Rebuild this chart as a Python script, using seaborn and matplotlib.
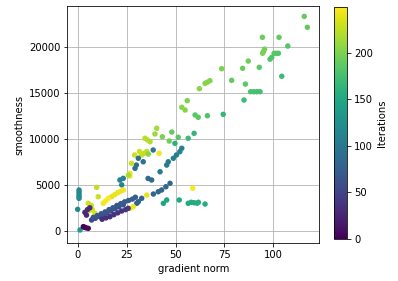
import numpy as np
import pandas as pd
import matplotlib
matplotlib.use("Agg")
import matplotlib.pyplot as plt
import seaborn as sns

# points: gradient norm, smoothness, iteration
grad_norm = [
    115.8, 117.4, 94.4, 102.9, 107.4, 95.5, 95.0, 94.5, 100.4, 101.5, 102.6,
    98.3, 99.2, 87.2, 92.8, 104.3, 84.3, 73.6, 78.7, 67.6, 66.3, 65.1, 62.2,
    85.7, 88.4, 90.0, 91.6, 93.2, 85.0, 56.0, 53.2, 54.9, 60.0, 61.6, 66.3, 74.4,
    40.4, 39.5, 43.3, 48.1, 51.4, 56.5, 59.5, 34.4, 35.7, 37.0, 49.7, 46.8,
    38.6, 41.6, 35.3, 34.0, 32.7, 31.6, 29.1, 36.1, 33.5, 31.0, 30.0, 29.3,
    27.5, 26.7, 53.2, 52.2, 50.5, 48.9, 46.3, 45.5, 42.1,
    26.7, 36.0, 37.8, 47.2, 45.1, 42.9, 41.2, 38.7, 32.7, 31.0, 30.2,
    35.3, 28.4, 26.7, 43.8, 45.5, 51.9, 56.5, 58.0, 59.5, 61.0, 61.7, 65.1,
    58.8,
    0.7, 0.7, 0.7, 0.7, 0.7, 0.0, 1.2, 2.9, 3.5, 4.2, 5.4,
    9.7, 10.5, 21.6, 23.3, 22.5, 25.9,
    17.4, 19.0, 20.5, 22.0, 23.3, 13.1, 14.3, 15.6,
    5.4, 6.5, 7.5, 8.8, 6.0, 7.0, 3.7, 5.0, 6.2, 4.5,
    7.1, 9.0, 11.0, 13.0, 15.0, 17.0, 19.0, 21.0, 23.3,
    8.0, 10.0, 12.0, 14.0, 16.0, 18.0, 20.0, 22.0, 24.0, 26.0, 28.0, 29.5,
    16.5, 18.5, 20.5, 22.5, 24.5, 25.8, 14.5, 12.5,
]
smoothness = [
    23370, 22180, 21090, 21090, 20140, 19800, 19550, 19350, 19350, 19350, 19350,
    18700, 18900, 18500, 17820, 16840, 17710, 17670, 16400, 16360, 16200, 16070, 15490,
    15990, 15160, 15160, 15160, 15160, 14250, 14180, 13460, 13160, 12620, 12370, 12540, 12690,
    11170, 10550, 10250, 10760, 10190, 10080, 10620, 10080, 9900, 9710, 9530, 9780,
    8800, 8440, 8650, 8450, 8260, 8640, 8260, 8360, 7520, 7900, 7160, 6800,
    7350, 6260, 8990, 8620, 8260, 7900, 7520, 7160, 6430,
    5960, 5700, 5530, 5170, 4800, 4440, 4250, 4000, 3530, 3160, 2990,
    3890, 2620, 2440, 2990, 3350, 3350, 2990, 3100, 3050, 3000, 3100, 2910,
    4630,
    4440, 4200, 3950, 3700, 3530, 2330, 80, 440, 380, 320, 260,
    4730, 3710, 5530, 5710, 5000, 6070,
    3710, 3950, 4150, 4300, 4440, 2990, 3250, 3530,
    2990, 2600, 2300, 1900, 2200, 2750, 2000, 2300, 2500, 1700,
    1170, 1350, 1550, 1750, 1950, 2150, 2400, 2600, 2830,
    1450, 1650, 1850, 2050, 2300, 2500, 2750, 2950, 3150, 3300, 3450, 3650,
    1530, 1750, 1950, 2150, 2300, 2440, 1400, 1250,
]
iteration = [
    190, 188, 192, 190, 182, 196, 197, 198, 184, 183, 182,
    181, 180, 195, 186, 170, 192, 200, 188, 202, 203, 204, 205,
    185, 178, 177, 176, 175, 172, 200, 205, 204, 185, 184, 180, 165,
    215, 212, 200, 190, 185, 170, 165, 222, 221, 220, 160, 195,
    100, 245, 225, 226, 227, 228, 229, 205, 92, 93, 91, 90,
    230, 245, 108, 107, 106, 105, 104, 103, 102,
    245, 85, 86, 84, 83, 82, 81, 80, 78, 77, 76,
    240, 242, 243, 145, 146, 148, 150, 151, 152, 153, 154, 155,
    248,
    115, 116, 117, 118, 119, 120, 135, 0, 2, 4, 6,
    225, 228, 110, 111, 112, 215,
    240, 241, 242, 243, 244, 246, 247, 248,
    230, 231, 232, 233, 234, 229, 30, 31, 32, 29,
    55, 56, 57, 58, 59, 60, 61, 62, 63,
    64, 65, 66, 67, 68, 69, 70, 71, 72, 73, 74, 75,
    35, 36, 37, 38, 39, 40, 34, 33,
]

df = pd.DataFrame({"gradient norm": grad_norm, "smoothness": smoothness,
                   "Iterations": iteration})

plt.rcParams["font.family"] = "DejaVu Sans"
plt.rcParams["font.size"] = 10

fig = plt.figure(figsize=(398 / 72, 281 / 72), dpi=72)
ax = fig.add_axes([0.1691, 0.1352, 0.6332, 0.8434])
cax = fig.add_axes([0.839, 0.1495, 0.0327, 0.8255])

ax.grid(True, color="#b0b0b0", linewidth=0.8)
ax.set_axisbelow(True)
sns.scatterplot(data=df, x="gradient norm", y="smoothness", hue="Iterations",
                palette="viridis", hue_norm=(0, 249), s=30, linewidth=0,
                legend=False, ax=ax)
ax.set_xlim(-5.3, 123.5)
ax.set_ylim(-1340, 24504)
ax.set_xticks([0, 25, 50, 75, 100])
ax.set_yticks([0, 5000, 10000, 15000, 20000])

sm = plt.cm.ScalarMappable(cmap="viridis", norm=plt.Normalize(0, 249))
cb = fig.colorbar(sm, cax=cax)
cb.set_ticks([0, 50, 100, 150, 200])
cb.set_label("Iterations")

fig.savefig("out.png", dpi=72)
